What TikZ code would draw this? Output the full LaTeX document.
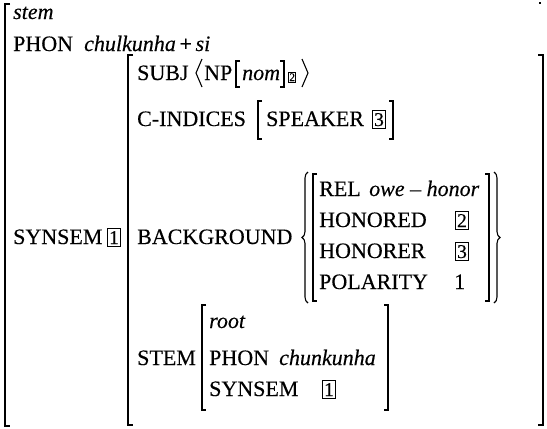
\documentclass[tikz,border=0pt]{standalone}
\usepackage{fontspec}
\setmainfont{Liberation Serif}[FakeBold=0.3]
\usetikzlibrary{decorations.pathreplacing}
\begin{document}
\begin{tikzpicture}[x=1pt,y=-1pt,
  lbl/.style={anchor=base west,inner sep=0pt,font=\fontsize{22}{26}\selectfont},
  val/.style={lbl,font=\fontsize{22}{26}\selectfont\itshape},
  idx/.style={draw,line width=1pt,inner xsep=1.6pt,inner ysep=2.8pt,anchor=base west,font=\fontsize{19.5}{19}\selectfont},
  smallidx/.style={idx,inner ysep=1pt,inner xsep=0.8pt,font=\fontsize{11.5}{11}\selectfont},
  brk/.style={line width=1.1pt},
  brc/.style={line width=1.1pt,decorate,decoration={brace,amplitude=6pt}},
]
\useasboundingbox (0,0) rectangle (547,429);

% outer matrix
\draw[brk] (10,4) -- (5,4) -- (5,426) -- (10,426);
\draw[brk] (539,3) -- (541,3);
\node[val] (stem) at (13,19) {stem};
\node[lbl] (phon) at (13,51) {PHON};
\node[val] (phonv) at (84,51) {chulkunha\,{\upshape+}\,si};
\node[lbl] (synsem) at (13,244) {SYNSEM};
\node[idx] (t1a) at (107,244) {1};

% SYNSEM value
\draw[brk] (133,55) -- (128,55) -- (128,425) -- (133,425);
\draw[brk] (538,55) -- (543,55) -- (543,425) -- (538,425);

% SUBJ
\node[lbl] (subj) at (137,80) {SUBJ};
\draw[brk] (202,59) -- (196,73) -- (202,87);
\node[lbl] (np) at (204,80) {NP};
\draw[brk] (240,61) -- (236,61) -- (236,87) -- (240,87);
\node[val] (nom) at (242,80) {nom};
\draw[brk] (280,61) -- (284,61) -- (284,87) -- (280,87);
\node[smallidx] (t2a) at (288,81) {2};
\draw[brk] (302,59) -- (308,73) -- (302,87);

% C-INDICES
\node[lbl] (cind) at (137,126) {C-INDICES};
\draw[brk] (262,101) -- (258,101) -- (258,139) -- (262,139);
\node[lbl] (spk) at (266,126) {SPEAKER};
\node[idx] (t3a) at (372,126) {3};
\draw[brk] (389,101) -- (393,101) -- (393,139) -- (389,139);

% BACKGROUND
\node[lbl] (bg) at (137,244) {BACKGROUND};
\draw[brc] (308,303) -- (308,172);
\draw[brk] (317,174) -- (313,174) -- (313,301) -- (317,301);
\node[lbl] (rel) at (319,196) {REL};
\node[val] (relv) at (369,196) {owe {\upshape–} honor};
\node[lbl] (hond) at (319,227) {HONORED};
\node[idx] (t2b) at (455,227) {2};
\node[lbl] (honr) at (319,258) {HONORER};
\node[idx] (t3b) at (455,258) {3};
\node[lbl] (pol) at (319,289) {POLARITY};
\node[lbl] (one) at (454,289) {1};
\draw[brk] (485,174) -- (489,174) -- (489,301) -- (485,301);
\draw[brc] (494,172) -- (494,303);

% STEM
\node[lbl] (stemf) at (137,365) {STEM};
\draw[brk] (206,305) -- (202,305) -- (202,410) -- (206,410);
\node[val] (root) at (209,328) {root};
\node[lbl] (phon2) at (209,365) {PHON};
\node[val] (phon2v) at (279,365) {chunkunha};
\node[lbl] (syn2) at (209,396) {SYNSEM};
\node[idx] (t1b) at (322,396) {1};
\draw[brk] (384,305) -- (388,305) -- (388,410) -- (384,410);
\end{tikzpicture}
\end{document}
